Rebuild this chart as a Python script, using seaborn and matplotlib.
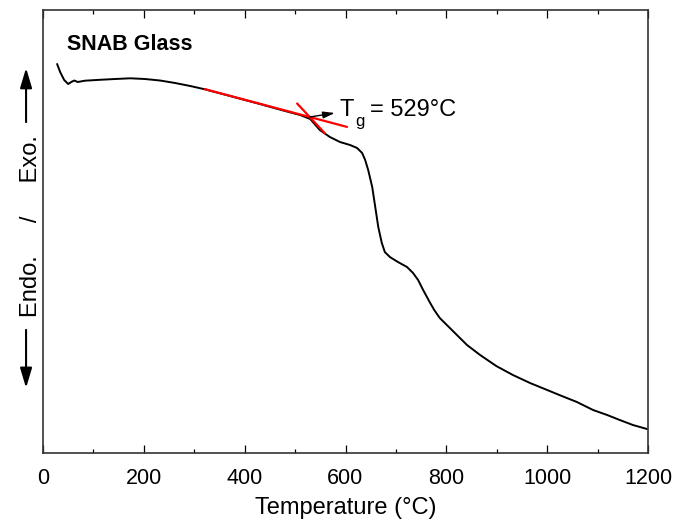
import numpy as np
import pandas as pd
import matplotlib
matplotlib.use("Agg")
import matplotlib.pyplot as plt
import seaborn as sns

# DSC trace of the SNAB glass (heat flow in arbitrary units, exo up)
temperature = [28, 34, 42, 50, 56, 62, 69, 83, 113, 143, 173, 202, 232, 262, 292,
               321, 371, 430, 480, 510, 530, 549, 569, 589, 609, 623, 633, 639,
               645, 653, 659, 665, 672, 678, 688, 704, 722, 734, 744, 754, 768,
               776, 787, 801, 817, 841, 867, 899, 932, 966, 1000, 1029, 1059,
               1075, 1091, 1119, 1144, 1170, 1198]
heat_flow = [3.89, 3.81, 3.73, 3.69, 3.71, 3.725, 3.71, 3.723, 3.732, 3.74, 3.747,
             3.74, 3.725, 3.70, 3.67, 3.637, 3.57, 3.49, 3.42, 3.38, 3.34, 3.23,
             3.16, 3.11, 3.08, 3.05, 3.00, 2.93, 2.83, 2.66, 2.46, 2.26, 2.10,
             2.01, 1.96, 1.91, 1.86, 1.80, 1.73, 1.63, 1.50, 1.43, 1.35, 1.28,
             1.20, 1.08, 0.98, 0.87, 0.78, 0.70, 0.63, 0.57, 0.51, 0.47, 0.43,
             0.38, 0.33, 0.28, 0.24]

# Glass transition from the intersection of two tangents
tg = 529
tg_signal = 3.36
baseline_slope = -0.00134
step_slope = -0.0054
baseline_span = [321, 603]
step_span = [504, 559]

sns.set_theme(style="ticks")
plt.rcParams["font.family"] = ["Liberation Sans", "DejaVu Sans"]
plt.rcParams["text.color"] = "black"
plt.rcParams["axes.labelcolor"] = "black"
plt.rcParams["xtick.color"] = "black"
plt.rcParams["ytick.color"] = "black"

df = pd.DataFrame({"Temperature": temperature, "Heat flow": heat_flow})

def tangent(span, slope):
    t = np.array(span, dtype=float)
    return pd.DataFrame({"Temperature": t, "Heat flow": tg_signal + slope * (t - tg)})

fig = plt.figure(figsize=(6.75, 5.22), dpi=100)
ax = fig.add_axes([43 / 675, 69 / 522, 605 / 675, 443 / 522])

sns.lineplot(data=df, x="Temperature", y="Heat flow", color="black", lw=1.4,
             sort=False, ax=ax)
sns.lineplot(data=tangent(baseline_span, baseline_slope), x="Temperature",
             y="Heat flow", color="red", lw=1.6, ax=ax)
sns.lineplot(data=tangent(step_span, step_slope), x="Temperature",
             y="Heat flow", color="red", lw=1.6, ax=ax)

ax.set_xlim(0, 1200)
ax.set_ylim(0, 4.43)
ax.set_xticks(np.arange(0, 1201, 200))
ax.set_xticks(np.arange(100, 1200, 200), minor=True)
ax.set_yticks([])
ax.tick_params(axis="x", which="both", direction="in", top=True, labelsize=15.5,
               pad=10.8, width=0.9, color="black")
ax.tick_params(axis="x", which="major", length=6)
ax.tick_params(axis="x", which="minor", length=3)
for sp in ax.spines.values():
    sp.set_visible(True)
    sp.set_linewidth(1.2)
    sp.set_color("#333333")

ax.set_xlabel("Temperature (°C)", fontsize=17, labelpad=5.5)
ax.set_ylabel("Endo.     /     Exo.", fontsize=17)
ax.yaxis.set_label_coords(-0.002, 0.512)

# Endo / Exo direction arrows
arrow_kw = dict(arrowstyle="-|>,head_length=0.6,head_width=0.18", color="black",
                lw=1.5, mutation_scale=20, shrinkA=0, shrinkB=0)
ax.annotate("", xy=(-0.028, 0.869), xytext=(-0.028, 0.747),
            xycoords="axes fraction", textcoords="axes fraction",
            arrowprops=arrow_kw, annotation_clip=False)
ax.annotate("", xy=(-0.028, 0.147), xytext=(-0.028, 0.278),
            xycoords="axes fraction", textcoords="axes fraction",
            arrowprops=arrow_kw, annotation_clip=False)

# Tg annotation: arrow from the tangent intersection to the label
ax.annotate("", xy=(tg + 50, tg_signal + 0.04), xytext=(tg, tg_signal),
            arrowprops=dict(arrowstyle="-|>,head_length=0.7,head_width=0.2",
                            color="black", lw=1.0, mutation_scale=10,
                            shrinkA=0, shrinkB=0))
label_pos = (tg + 60, 3.37)
ax.annotate("T", xy=label_pos, fontsize=17, va="baseline", ha="left")
ax.annotate("g", xy=label_pos, xytext=(10.8, -7.5), textcoords="offset points",
            fontsize=12, va="baseline", ha="left")
ax.annotate(f"= {tg}°C", xy=label_pos, xytext=(21.6, 0), textcoords="offset points",
            fontsize=17, va="baseline", ha="left")

ax.text(0.040, 0.910, "SNAB Glass", transform=ax.transAxes, fontsize=15.5,
        fontweight="bold", va="baseline", ha="left")

fig.savefig("out.png", dpi=100)
